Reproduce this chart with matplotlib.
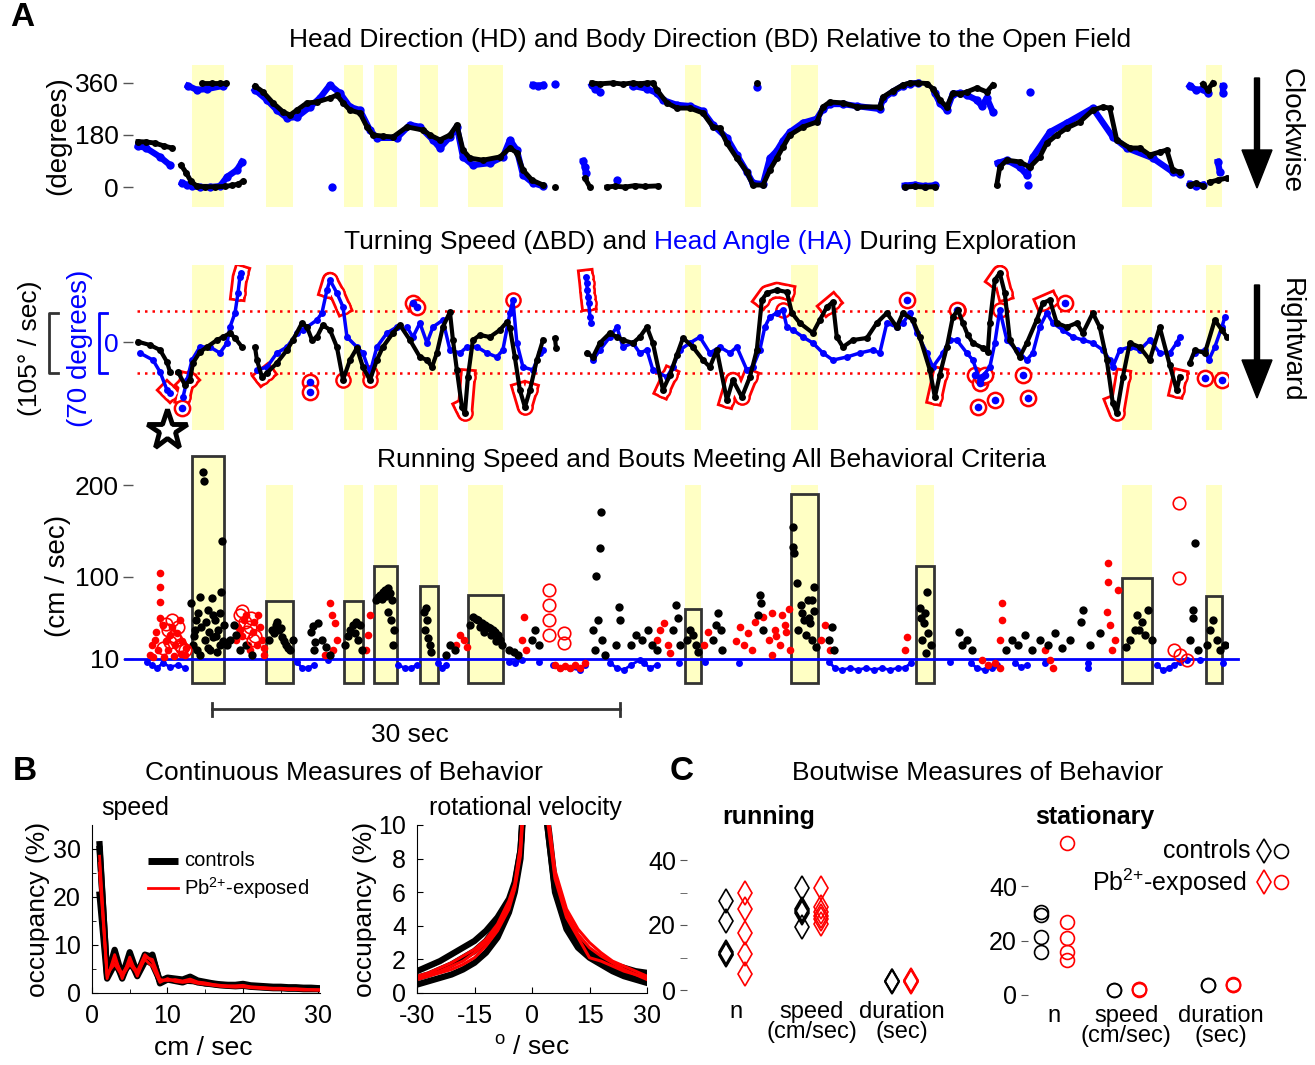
import numpy as np
import matplotlib
matplotlib.use('Agg')
import matplotlib.pyplot as plt
from matplotlib.patches import Rectangle, FancyArrow

nan = float('nan')
plt.rcParams['font.family'] = ['Liberation Sans', 'DejaVu Sans']
plt.rcParams['mathtext.fontset'] = 'custom'
plt.rcParams['mathtext.rm'] = 'Liberation Sans'
plt.rcParams['mathtext.it'] = 'Liberation Sans:italic'
plt.rcParams['mathtext.bf'] = 'Liberation Sans:bold'
plt.rcParams['axes.unicode_minus'] = False

BLUE = '#0000ff'; RED = '#ff0000'; YEL = '#ffffc4'; EDGE = '#333333'

# ---------------- DATA ----------------
# running bouts (seconds) and their peak speed (cm/s)
bout_start = [4.34, 9.78, 15.51, 17.71, 21.09, 24.62, 40.57, 48.36, 57.55, 72.69, 78.87]
bout_end = [6.69, 11.76, 16.91, 19.40, 22.42, 27.20, 41.75, 50.35, 58.87, 74.90, 80.04]
bout_peak = [231.9, 73.4, 73.4, 111.6, 89.8, 79.9, 64.6, 190.3, 111.6, 98.5, 78.9]

# body direction (deg), segments
bd_t = [
    [0.37, 0.96, 1.62, 2.28, 2.87],
    [3.53, 3.90, 4.26, 4.70, 5.29, 6.03, 6.76, 7.28, 7.72, 8.09],
    [5.07, 5.81, 6.39, 6.84],
    [8.97, 9.56, 10.29, 11.03, 11.54, 12.05, 12.79, 13.52, 14.48, 14.99, 15.44, 15.95, 16.68, 17.20, 17.64, 18.38,
     19.11, 20.14, 21.32, 21.83, 22.56, 23.30, 23.81, 24.26, 24.77, 25.73, 26.97, 27.71, 28.22, 28.67, 29.33, 30.14],
    [31.02],
    [33.22, 33.59],
    [34.84, 35.43, 36.16, 36.90, 37.63, 38.59],
    [33.74, 34.32, 35.28, 36.02, 36.75, 37.26, 37.78, 38.22, 38.51, 39.25, 39.98, 40.94, 41.90, 42.63, 43.14, 43.66,
     44.39, 45.13, 45.57, 46.31, 46.82, 47.33, 47.78, 48.29, 49.25, 50.27, 50.72, 51.23, 52.19, 53.21, 54.90, 55.13,
     55.86, 56.60, 57.11, 57.70, 58.36, 58.80, 59.31, 59.83, 60.27, 60.78, 61.30, 62.03, 62.77, 63.21],
    [45.86],
    [56.74, 57.48, 58.21, 58.95],
    [63.50, 63.72, 64.24, 65.19, 65.93, 66.66, 67.18, 67.91, 68.65, 69.60, 70.56, 71.30, 71.81, 72.32, 73.28, 74.01,
     74.75, 75.48, 76.00, 76.44, 76.95],
    [77.69, 78.13, 78.65],
    [79.16, 79.75, 80.41],
    [78.65, 79.01, 79.38],
]
bd_deg = [
    [157, 156, 152, 142, 135],
    [76, 50, 20, 3, 1, 1, 2, 6, 10, 20],
    [360, 360, 360, 360],
    [349, 329, 291, 260, 249, 266, 291, 294, 308, 318, 291, 266, 256, 208, 180, 176,
     173, 208, 197, 180, 163, 180, 215, 128, 100, 93, 104, 135, 118, 59, 24, 7],
    [0],
    [31, 0],
    [0, 3, 0, 5, 2, 4],
    [360, 357, 360, 356, 360, 357, 360, 360, 336, 291, 273, 273, 256, 208, 204, 152,
     100, 52, 7, 7, 59, 100, 138, 180, 208, 225, 277, 294, 291, 277, 277, 311,
     333, 353, 360, 360, 358, 340, 301, 277, 325, 322, 329, 343, 329, 353],
    [360],
    [0, 2, 0, 1],
    [7, 69, 93, 87, 69, 104, 152, 180, 204, 225, 266, 277, 273, 163, 135, 135,
     111, 121, 128, 59, 52],
    [7, 14, 3],
    [17, 24, 31],
    [357, 336, 360],
]
# head direction (deg), segments
hd_t = [
    [0.37, 0.96, 1.99, 2.72],
    [3.60, 3.97, 4.34, 4.92, 5.66, 6.39, 6.91, 7.64, 8.01],
    [4.04, 4.70, 5.44, 6.62],
    [8.97, 9.85, 10.58, 11.32, 12.05, 13.01, 13.74, 14.48, 15.21, 15.95, 16.68, 17.42, 17.93, 19.40, 20.36, 21.09,
     22.05, 22.56, 23.30, 23.81, 24.26, 24.99, 26.24, 27.19, 27.71, 28.22, 28.67, 29.40, 30.14],
    [14.63],
    [29.40, 29.80, 30.14],
    [31.02],
    [33.10, 33.22, 33.30],
    [35.57],
    [33.74, 34.00, 34.32],
    [36.75, 37.78, 38.51, 38.95, 39.98, 40.94, 41.90, 42.63, 43.66, 44.39, 45.13, 45.57, 46.31, 46.82, 47.33, 47.78,
     48.29, 49.25, 50.27, 50.72, 51.23, 52.19, 53.21, 54.90, 55.13, 55.86, 56.60, 57.11, 57.70],
    [45.86],
    [56.74, 57.48, 58.21, 58.95],
    [58.95, 59.31, 59.83, 60.27, 60.78, 61.30, 62.03, 62.40, 62.77, 63.21],
    [65.93],
    [63.58, 64.24, 65.19, 65.71, 66.15, 67.40, 68.65, 70.56, 72.03, 73.06, 74.97, 76.44, 76.95],
    [65.78],
    [77.69, 78.13, 78.65],
    [79.75, 79.90],
    [77.69, 78.13, 78.65, 79.01],
    [80.12, 80.12],
]
hd_deg = [
    [142, 135, 104, 76],
    [14, 7, 3, 0, 0, 3, 35, 59, 87],
    [350, 336, 339, 350],
    [336, 301, 266, 239, 242, 277, 308, 353, 325, 277, 266, 197, 170, 170, 215, 208,
     163, 135, 173, 208, 104, 76, 83, 104, 163, 128, 42, 14, 3],
    [0],
    [353, 350, 353],
    [357],
    [90, 69, 48],
    [24],
    [353, 340, 329],
    [350, 340, 325, 301, 284, 280, 262, 215, 170, 111, 52, 14, 10, 100, 125, 160,
     190, 222, 236, 270, 287, 287, 280, 270, 305, 330, 350, 357, 360],
    [345],
    [5, 8, 3, 6],
    [325, 291, 266, 322, 325, 318, 301, 280, 308, 260],
    [329],
    [83, 93, 69, 42, 104, 190, 222, 273, 173, 135, 100, 52, 45],
    [7],
    [10, 3, 8],
    [87, 52],
    [350, 336, 339, 325],
    [350, 325],
]

# turning speed dBD (deg/s), segments
ts_t = [
    [0.37, 1.25, 1.99, 2.50, 2.72],
    [3.31, 3.82, 4.19, 4.41, 4.92, 5.44, 6.17, 6.62, 7.13, 7.50, 8.01],
    [8.97, 9.11, 9.48, 9.85, 10.58, 11.32, 11.76, 12.42, 12.79, 13.16, 13.52, 13.96, 14.48, 14.99, 15.44, 15.95,
     16.46, 16.90, 17.42, 17.93, 18.37, 19.11, 19.62,
     20.36, 21.09, 21.61, 21.98, 22.34, 22.78, 23.30, 23.52, 23.81, 24.18, 24.40, 24.62, 24.99, 25.51, 26.24, 26.97,
     27.49, 27.71, 28.07, 28.44, 28.81, 29.18, 29.69, 30.14],
    [31.02, 31.10],
    [33.37, 33.81, 34.32, 35.06, 35.57, 36.02, 36.75, 37.26, 37.78, 38.22, 38.96, 39.47, 39.98, 40.43, 41.16, 41.90,
     42.41, 42.92, 43.66, 44.10, 44.76, 45.35, 45.86, 46.23, 46.60, 47.33, 48.07, 48.44, 49.02, 49.98, 50.49, 51.01,
     51.45, 51.74, 52.19, 52.92, 53.95, 54.68, 55.42, 56.15, 56.60, 57.33, 57.84, 58.58, 58.95, 59.31, 59.83, 60.27,
     60.64, 61.01, 61.37, 61.74, 62.48, 62.84, 62.99, 63.36, 63.72, 64.09, 64.46, 65.19, 65.71, 66.44, 66.89, 67.40,
     67.91, 68.65, 69.38, 69.83, 70.56, 71.07, 71.59, 72.03, 72.32, 72.77, 73.28, 74.01, 74.75, 75.48, 76.22, 76.73,
     76.95],
    [77.69, 78.07, 78.80, 79.53, 80.05, 80.41],
]
ts_val = [
    [0.5, -5.2, -13.8, -34.4, -51.6],
    [-51.6, -74, -65.4, -36.1, -17.2, -8.6, 3.4, 8.6, 15.5, 6.9, -8.6],
    [-8.6, -31, -60.2, -53.4, -36.1, -13.8, 3.4, 32.7, 25.8, 3.4, 8.6, 29.3, 20.7, -8.6, -65, -31,
     -10.3, -43, -65.4, -31, -8.6, 15.5, 29.3,
     3.4, -25.8, -31, -43, -18.9, 25.8, 51.6, 3.4, -48.2, -111.9, -122.2, -60.2, 3.4, 12, 8.6, 20.7,
     34.4, 24.1, -25.8, -82.6, -111.9, -82.6, -31, 3.4],
    [6.9, -10.3],
    [-18.9, -25.8, -1.7, 15.5, 8.6, 3.4, -1.7, 8.6, 25.8, -1.7, -82.6, -56.8, -22.4, 6.9, -8.6, -31,
     -43, -13.8, -99.8, -65.4, -94.7, -60.2, -13.8, 72.3, 84.3, 89.5, 86, 49.9, 32.7, 15.5, 37.9, 60.2,
     68.8, 8.6, -8.6, 3.4, 6.9, 32.7, 49.9, 25.8, 49.9, 37.9, 8.6, -48.2, -94.7, -56.8, -8.6, 43,
     55.1, 32.7, 12, -1.7, -10.3, -17.2, 32.7, 106.7, 118.7, 84.3, 3.4, -25.8, -1.7, 37.9, 67.1, 72.3,
     32.7, 25.8, 32.7, 15.5, 49.9, 25.8, -31, -105, -122.2, -60.2, -1.7, -8.6, -31, 25.8, -40, -82.6,
     -60],
    [-36.1, -13.8, -18.9, 37.9, 20.7, 8.6],
]
# head angle HA (deg), traced segments
ha_t = [
    [0.51, 1.47, 1.99, 2.50, 2.72],
    [3.68, 3.97, 4.34, 4.92, 5.66, 6.39, 6.91, 7.13, 7.50, 7.72, 7.86, 7.95],
    [9.11, 9.85, 10.58, 11.32, 12.05, 12.49, 13.52, 13.89, 14.26, 14.48, 14.99, 15.44, 15.73, 16.46, 16.90, 17.42,
     17.93, 18.67, 19.40],
    [20.14, 20.58, 21.09, 21.61, 22.05, 22.78, 23.30, 24.04, 24.55, 25.29, 26.02, 26.75, 27.19, 27.71, 27.93, 28.22,
     28.67, 29.40, 29.91, 30.14],
    [33.30, 33.35, 33.40, 33.45, 33.50, 33.60, 33.70],
    [33.81, 34.32, 35.06, 35.57, 36.02, 36.75, 37.26, 37.78, 38.22, 39.25, 39.69, 40.20, 40.94, 41.67, 42.41, 43.14,
     43.88, 44.39, 45.13, 45.57, 46.08, 46.45, 46.82, 47.33, 47.78, 48.07, 48.51, 49.25, 49.98, 50.72, 51.45, 52.48,
     53.43, 54.39, 54.90, 55.42, 56.15, 56.60, 57.11, 57.62, 58.36, 58.80, 59.54, 60.05, 60.56, 61.30, 61.74, 62.25,
     62.99, 63.36, 63.72, 64.24, 64.97, 65.71, 66.15, 66.66, 67.18, 67.62, 68.36, 69.09, 69.83, 70.56, 71.30, 71.81,
     72.03, 72.54, 73.28, 74.01, 74.75, 75.48, 76.22, 76.73, 76.95],
    [78.07, 78.80, 79.09, 79.53, 80.05, 80.27],
]
ha_deg = [
    [-12.6, -20.7, -34.4, -55.1, -58.5],
    [-63.1, -43.6, -20.7, -5.7, -5.7, -12.6, -1.1, 17.2, 33.3, 56.2, 74.6, 79.2],
    [-32.1, -28.7, -12.6, -5.7, 10.3, 13.8, 25.2, 33.3, 59.7, 71.1, 56.2, 40.2, 5.7, -5.7, -12.6, -35.6,
     -5.7, 10.3, 17.2],
    [17.2, 5.7, 21.8, -1.1, 17.2, 25.2, -9.2, -12.6, -5.7, -5.7, -12.6, -17.2, -9.2, 33.3, 48.2, -1.1,
     -28.7, -32.1, -12.6, -9.2],
    [74.6, 67.7, 59.7, 51.6, 44.8, 28.7, 21.8],
    [-20.7, -9.2, 5.7, 17.2, -5.7, -1.1, -12.6, -9.2, -32.1, -40.2, -28.7, -9.2, -1.1, 5.7, -12.6, -5.7,
     -12.6, -5.7, -32.1, -28.7, -9.2, 17.2, 28.7, 33.3, 36.7, 17.2, 13.8, 5.7, -1.1, -12.6, -20.7, -17.2,
     -12.6, -9.2, -12.6, 21.8, 17.2, 21.8, 33.3, 10.3, -12.6, -28.7, -12.6, 2.3, 2.3, -12.6, -20.7, -43.6,
     -28.7, -1.1, 36.7, 2.3, -9.2, -20.7, -12.6, 17.2, 33.3, 21.8, 13.8, 5.7, 2.3, -1.1, -9.2, -20.7,
     -28.7, -9.2, -5.7, -9.2, 2.3, -12.6, -12.6, -1.1, 5.7],
    [-12.6, -9.2, -20.7, -5.7, 17.2, 28.7],
]
# isolated head-angle samples (deg)
ha_out_t = [3.60, 13.01, 13.01, 20.60, 20.90, 61.90, 62.11, 62.25, 62.40, 62.62, 63.36, 65.42, 65.78, 78.79, 80.04,
            56.89, 60.56, 68.50]
ha_out_deg = [-75.7, -45.9, -57.4, 44.8, 40.2, -38, -74.6, -47, -40, -37.9, -66.6, -37.9, -64.3, -41.3, -43.6,
              48.2, 36.7, 44.8]

# running speed (t [s], cm/s)
spd_black = [(5.15,214.4),(5.22,204.6),(6.54,139),(6.47,83.2),(4.92,77.8),(5.81,76.7),(4.26,71.2),(4.63,52.6),(5.51,63.6),
    (6.03,52.6),(6.25,41.7),(5.29,30.8),(4.56,41.7),(5.66,19.8),(4.92,14.4),(6.39,25.3),(6.69,47.2),(4.41,25.3),(5.88,34),
    (4.5,35),(4.8,60),(5.0,45),(5.4,50),(5.6,40),(5.9,58),(6.1,35),(6.4,60),(6.6,30),(4.7,20),(5.5,22),(6.2,18),
    (6.91,25.3),(7.13,30.8),(7.42,47.2),(7.57,36.2),(7.86,19.8),(8.31,25.3),(8.75,14.4),
    (10.0,30.8),(10.22,41.7),(10.51,47.2),(10.73,41.7),(10.95,34),(11.25,25.3),(11.54,19.8),(11.76,30.8),
    (10.4,38),(10.6,50),(10.85,44),(11.1,30),(11.4,22),
    (13.08,39.5),(13.6,49.3),(13.89,30.8),(14.19,23.1),(13.3,19.8),(14.48,14.4),(13.2,46),(13.4,28),
    (15.58,25.3),(15.95,41.7),(16.17,47.2),(16.39,50.4),(16.68,47.2),(16.54,30.8),(16.83,19.8),(15.8,35),(16.3,38),
    (17.86,74.5),(18.15,80),(18.38,83.2),(18.52,85.4),(18.74,87.6),(18.89,82.1),(19.04,74.5),(18.74,61.4),(18.96,52.6),
    (19.18,41.7),(19.11,25.3),(18.0,78),(18.3,76),(18.6,79),
    (21.39,61.4),(21.54,65.7),(21.61,52.6),(21.46,41.7),(21.68,33),(21.83,25.3),(21.9,17.7),
    (23.01,14.4),(23.3,25.3),(23.67,19.8),
    (24.77,47.2),(24.99,55.9),(25.21,53.7),(25.36,52.6),(25.65,49.3),(25.87,47.2),(26.09,45),(26.24,43.9),(26.46,41.7),
    (26.61,39.5),(26.83,36.2),(26.97,30.8),(27.12,25.3),(25.5,45),(25.8,40),(26.3,36),(26.7,30),
    (27.64,19.8),(28.0,17.7),(28.3,14.4),(29.33,30.8),(29.55,41.7),(29.84,25.3),
    (33.81,41.7),(33.96,19.8),(34.03,100.7),(34.18,52.6),(34.32,131.3),(34.4,170.7),(34.47,30.8),(34.69,14.4),
    (35.72,66.8),(35.79,52.6),(35.5,25.3),
    (36.6,25.3),(36.97,36.2),(37.41,30.8),(37.85,41.7),(38.15,25.3),(38.51,19.8),
    (39.91,69),(40.06,54.8),(39.69,41.7),(40.2,25.3),
    (40.72,30.8),(40.94,41.7),(41.16,36.2),(41.38,25.3),(41.53,17.7),
    (42.63,30.8),(42.85,47.2),(43.0,60.3),(43.22,41.7),(43.29,19.8),
    (45.94,58.1),(46.08,80),(46.16,71.2),(46.31,41.7),
    (48.51,154.3),(48.51,132.4),(48.58,125.9),(48.8,93.1),(49.1,69),(49.32,52.6),(49.61,74.5),(49.76,49.3),(49.91,74.5),
    (49.91,30.8),(50.05,88.7),(50.2,23.1),(48.88,41.7),(49.47,36.2),(49.2,60),(49.7,55),(50.1,62),
    (51.16,30.8),(51.38,45),(51.52,19.8),
    (57.84,65.7),(57.99,30.8),(58.14,49.3),(58.29,16.6),(58.36,83.2),(58.43,38.4),(58.65,25.3),(57.9,55),(58.2,60),
    (60.71,39.5),(60.93,25.3),(61.3,30.8),(61.67,19.8),
    (64.17,19.8),(64.61,30.8),(65.05,25.3),(65.56,36.2),(66.08,19.8),(66.66,30.8),(67.25,25.3),(67.77,38.4),(68.28,22),
    (68.87,30.8),(69.68,50.4),(69.83,63.6),(70.34,25.3),(71.07,38.4),
    (72.99,23.1),(73.28,30.8),(73.65,41.7),(73.79,58.1),(73.94,41.7),(74.16,50.4),(74.38,36.2),(74.6,63.6),(74.9,30.8),
    (77.91,63.6),(77.91,54.8),(78.06,136.8),(77.69,30.8),(78.28,19.8),
    (78.94,25.3),(79.16,41.7),(79.38,52.6),(79.67,30.8),(79.89,19.8),(80.26,25.3)]
spd_red = [(1.98,104),(1.98,88.7),(1.98,72.3),(1.62,30.8),(1.84,19.8),(2.21,47.2),(2.72,36.2),(3.09,25.3),(3.45,52.6),
    (3.82,14.4),(1.25,14.4),(1.4,25),(1.7,40),(2.0,55),(2.4,30),(2.6,20),(2.9,45),(3.2,38),(3.6,30),(3.9,22),
    (1.5,12),(2.3,12),(3.0,13),(3.5,15),
    (7.57,30.8),(7.86,41.7),(8.16,52.6),(8.45,25.3),(8.82,39.5),(9.19,58.1),(9.48,30.8),(9.63,14.4),
    (7.7,45),(8.0,35),(8.3,58),(8.6,20),(8.9,50),(9.1,25),(9.3,45),(9.6,22),
    (14.48,71.2),(14.63,58.1),(14.85,49.3),(14.99,30.8),(14.7,19.8),(14.11,14.4),
    (17.42,58.1),(17.27,36.2),(17.13,19.8),
    (23.74,25.3),(24.03,36.2),(24.33,30.8),(24.55,23.1),
    (28.74,55.9),(28.59,30.8),(28.89,19.8),
    (38.51,30.8),(38.73,41.7),(39.03,49.3),(39.32,25.3),(39.47,16.6),
    (42.0,25),(42.3,40),(44.3,30),(44.6,45),(44.9,25),(45.2,38),(45.5,20),(45.7,50),
    (46.31,55.9),(46.75,30.8),(47.19,41.7),(47.55,25.3),(47.92,47.2),(48.29,19.8),(46.97,14.4),
    (47.0,60),(47.3,35),(47.7,58),(48.0,40),(48.2,65),
    (50.57,30.8),(50.86,47.2),(51.23,19.8),
    (56.89,34),(56.74,19.8),
    (63.87,71.2),(63.87,52.6),(63.72,30.8),(67.03,19.8),(67.4,8.9),(67.62,0.2),
    (71.59,61.4),(71.66,114.9),(71.66,94.2),(72.4,85.4),(71.81,47.2),(72.18,30.8),(71.96,19.8),
    (31.02,3.4),(31.38,0.2),(31.75,2.3),(32.12,0.2),(32.49,3.4),(32.85,0.2),(33.22,5.6),
    (62.4,8.9),(62.84,3.4),(63.36,5.6),(63.72,0.2)]
spd_red_open = [(2.57,41.7),(2.87,52.6),(3.16,30.8),(3.45,25.3),(3.82,19.8),(2.4,48),(2.7,28),(3.0,35),(3.3,45),(3.6,22),
    (2.2,22),(7.86,58.1),(8.23,50.4),(8.6,45),(8.82,30.8),(8.0,62),(8.4,40),(8.7,55),(9.0,35),
    (30.58,85.4),(30.58,69),(30.58,52.6),(30.58,36.2),(31.68,38.4),(31.68,27.5),
    (76.88,180.5),(76.88,98.5),(76.51,19.8),(76.95,14.4),(77.47,8.9)]
spd_blue = [(1.03,6.7),(1.4,3.4),(1.76,0.2),(2.21,5.6),(2.72,1.3),(3.31,3.4),(3.82,0.2),(12.05,6.7),(12.42,0.2),(12.86,0.2),
    (13.3,3.4),(14.33,8.9),(19.48,3.4),(19.99,0.2),(20.43,0.2),(20.87,3.4),(22.42,5.6),(22.71,0.2),(23.01,3.4),
    (27.64,6.7),(28.08,5.6),(28.59,8.9),(29.84,6.7),(30.87,3.4),(31.38,0.2),(32.12,0.2),(32.85,-2),(33.22,3.4),
    (35.06,5.6),(35.57,0.2),(36.09,-2),(36.6,3.4),(37.26,8.9),(37.56,5.6),(38.0,0.2),(38.51,3.4),(40.13,5.6),
    (42.04,6.7),(44.54,5.6),(51.16,6.7),(51.6,0.2),(52.11,-2),(52.7,0.2),(53.29,-2),(53.88,0.2),(54.46,-2),
    (55.05,0.2),(55.64,-2),(56.23,0.2),(56.74,0.2),(57.18,5.6),(60.05,6.7),(61.59,5.6),(62.03,0.2),(62.62,-2),
    (63.14,0.2),(63.5,3.4),(64.83,5.6),(65.27,1.3),(65.71,3.4),(67.03,5.6),(70.19,5.6),(70.19,0.2),(75.26,3.4),
    (75.7,-2),(76.15,0.2),(76.51,3.4),(76.95,6.7),(77.47,8.9),(78.42,8.9),(80.12,5.6)]

# Panel B: occupancy (%)
speed_bins = list(range(1, 31))
speed_ctrl = [
    [31, 3.5, 9, 3.5, 8.5, 4, 8, 7.5, 2.5, 3.2, 3.0, 2.8, 3.4, 2.6, 2.3, 2.0, 1.8, 1.7, 1.7, 1.9, 1.6, 1.5, 1.4, 1.3, 1.3, 1.2, 1.2, 1.1, 1.1, 1.0],
    [30, 4, 7, 3, 7, 3.5, 6.5, 8, 2.0, 2.8, 2.5, 2.2, 2.8, 2.2, 2.0, 1.8, 1.6, 1.5, 1.4, 1.5, 1.3, 1.2, 1.1, 1.0, 1.0, 0.9, 0.9, 0.8, 0.8, 0.8],
    [20.5, 3, 6, 4, 6, 4.5, 7, 6, 2.5, 3.0, 2.8, 2.6, 2.5, 2.4, 2.0, 1.9, 1.7, 1.6, 1.5, 1.6, 1.4, 1.3, 1.2, 1.2, 1.1, 1.0, 1.0, 0.9, 0.9, 0.9],
]
speed_pb = [
    [28.5, 3.5, 7, 4, 6.5, 4.5, 8, 6.5, 2.5, 2.8, 2.6, 2.4, 2.6, 2.2, 2.0, 1.7, 1.5, 1.4, 1.4, 1.5, 1.2, 1.1, 1.0, 0.9, 0.9, 0.8, 0.8, 0.7, 0.7, 0.6],
    [25, 4, 6, 3.5, 6, 4, 7, 5.5, 2.2, 3.0, 2.4, 2.2, 2.4, 2.0, 1.8, 1.6, 1.4, 1.3, 1.2, 1.3, 1.1, 1.0, 0.9, 0.8, 0.8, 0.7, 0.7, 0.6, 0.6, 0.6],
    [27, 3, 8, 3, 7.5, 3.5, 7.5, 7, 2.8, 2.6, 2.8, 2.5, 2.9, 2.3, 2.1, 1.8, 1.6, 1.5, 1.5, 1.6, 1.3, 1.2, 1.1, 1.0, 1.0, 0.9, 0.9, 0.8, 0.7, 0.7],
]
rot_bins_neg = [-30, -27, -24, -21, -18, -15, -12, -9, -6, -4.5, -3, -1.5]
rot_bins_pos = [1.5, 3, 4.5, 6, 9, 12, 15, 18, 21, 24, 27, 30]
rot_ctrl_neg = [[1.3, 1.6, 1.9, 2.3, 2.7, 3.1, 3.7, 4.5, 5.6, 6.6, 8.5, 14],
                [0.5, 0.7, 0.9, 1.1, 1.4, 1.8, 2.4, 3.3, 4.8, 6.0, 8.0, 14],
                [0.9, 1.1, 1.4, 1.7, 2.1, 2.5, 3.1, 4.0, 5.3, 6.4, 8.5, 14]]
rot_pb_neg = [[1.0, 1.2, 1.5, 1.8, 2.2, 2.6, 3.2, 4.1, 5.5, 6.5, 8.8, 14],
              [0.8, 1.0, 1.2, 1.4, 1.7, 2.1, 2.8, 3.7, 5.0, 6.2, 8.2, 14],
              [0.9, 1.1, 1.3, 1.6, 1.9, 2.4, 3.0, 3.9, 5.2, 6.3, 8.6, 14]]
rot_ctrl_pos = [[14, 12, 9, 6.0, 3.8, 2.7, 2.1, 1.7, 1.3, 1.0, 0.8, 0.6],
                [14, 12, 9.5, 6.5, 4.3, 3.1, 2.4, 2.0, 1.7, 1.5, 1.3, 1.2],
                [14, 12, 9, 6.2, 4.0, 2.9, 2.2, 1.8, 1.5, 1.2, 1.0, 0.8]]
rot_pb_pos = [[14, 12, 10, 7.3, 5.0, 3.8, 3.0, 2.4, 1.9, 1.6, 1.3, 1.0],
              [14, 12, 9.5, 6.8, 4.5, 3.3, 2.1, 1.9, 1.6, 1.3, 1.1, 0.9],
              [14, 12, 10, 7.0, 4.7, 3.5, 2.7, 2.2, 1.8, 1.4, 1.1, 0.8]]

# Panel C: boutwise measures
run_n_ctrl = [27.5, 21.1, 11.7, 11.2, 10.7]
run_n_pb = [29.8, 24.8, 17.5, 11.0, 4.9]
run_speed_ctrl = [31.3, 24.8, 24.3, 23.6, 19.4]
run_speed_pb = [31.4, 25.5, 23.9, 22.9, 21.9, 20.2]
run_dur_ctrl = [2.8, 2.6, 2.9]
run_dur_pb = [2.8, 2.5, 2.7, 3.0]
stat_n_ctrl = [30.6, 29.4, 21.2, 15.9]
stat_n_pb = [56, 26.7, 20.8, 15.7, 12.9]
stat_speed_ctrl = [1.8, 1.9]
stat_speed_pb = [2.1, 2.3, 1.9]
stat_dur_ctrl = [3.7, 3.6]
stat_dur_pb = [3.7, 3.9, 3.5]

# ---------------- FIGURE ----------------
W, H = 1315, 1065
fig = plt.figure(figsize=(W / 100, H / 100), dpi=100)

def fax(x0, y0, x1, y1):
    return fig.add_axes([x0 / W, 1 - y1 / H, (x1 - x0) / W, (y1 - y0) / H])

def check(name, T, V):
    for i, (a, b) in enumerate(zip(T, V)):
        if len(a) != len(b):
            raise ValueError(f'{name} segment {i}: {len(a)} vs {len(b)}')

for nm, T, V in [('bd', bd_t, bd_deg), ('hd', hd_t, hd_deg), ('ts', ts_t, ts_val), ('ha', ha_t, ha_deg)]:
    check(nm, T, V)

TLIM = (0, 80.5)
TICKC = '#555555'
FS = 19
PB = r'Pb$^{2{+}}$-exposed'

# ---- A1: HD & BD
axA = fax(133, 65, 1228, 207)
axA.set_xlim(*TLIM); axA.set_ylim(-69, 422)
for s, e in zip(bout_start, bout_end):
    axA.axvspan(s, e, color=YEL, lw=0, zorder=0)
for a, b in zip(hd_t, hd_deg):
    axA.plot(a, b, color=BLUE, lw=4.5, marker='o', ms=6, mew=0, zorder=2)
for a, b in zip(bd_t, bd_deg):
    axA.plot(a, b, color='k', lw=3.5, marker='o', ms=5, mew=0, zorder=3)
axA.set_xticks([]); axA.set_yticks([0, 180, 360])
axA.tick_params(axis='y', length=7, width=1, color=TICKC, pad=3, labelsize=FS)
axA.set_ylabel('(degrees)', fontsize=FS + 1)
axA.yaxis.set_label_coords((71 - 133) / 1095, 0.5)
for sp in axA.spines.values():
    sp.set_visible(False)

# ---- A2: turning speed & head angle
TH = 52.5
HA_SCALE = 105 / 70
axM = fax(133, 265, 1228, 430)
axM.set_xlim(*TLIM); axM.set_ylim(-151.4, 132.5)
for s, e in zip(bout_start, bout_end):
    axM.axvspan(s, e, color=YEL, lw=0, zorder=0)
axM.plot([0.29, 80.4], [TH, TH], color=RED, lw=1.8, ls=(0, (1, 2)), zorder=1)
axM.plot([0.29, 80.4], [-TH, -TH], color=RED, lw=1.8, ls=(0, (1, 2)), zorder=1)
series = [(ts_t, [np.array(v, float) for v in ts_val]),
          (ha_t, [np.array(v, float) * HA_SCALE for v in ha_deg])]
for T, V in series:
    for a, b in zip(T, V):
        r = np.where(np.abs(b) > TH, b, nan)
        axM.plot(a, r, color=RED, lw=12, marker='o', ms=12, mew=0, zorder=2)
for T, V in series:
    for a, b in zip(T, V):
        r = np.where(np.abs(b) > TH, b, nan)
        axM.plot(a, r, color='white', lw=8, marker='o', ms=8.5, mew=0, zorder=2.5)
out_y = np.array(ha_out_deg) * HA_SCALE
out_t = np.array(ha_out_t)
big = np.abs(out_y) > TH
axM.plot(out_t[big], out_y[big], ls='none', marker='o', ms=11, mfc='white', mec=RED, mew=1.8, zorder=2.6)
axM.plot(out_t, out_y, ls='none', marker='o', ms=5.5, mew=0, color=BLUE, zorder=3)
for a, b in zip(ha_t, series[1][1]):
    axM.plot(a, b, color=BLUE, lw=2.5, marker='o', ms=5, mew=0, zorder=3)
for a, b in zip(ts_t, series[0][1]):
    axM.plot(a, b, color='k', lw=3, marker='o', ms=5, mew=0, zorder=4)
axM.set_xticks([]); axM.set_yticks([0])
axM.set_yticklabels(['0'], color=BLUE)
axM.tick_params(axis='y', length=7, width=1, color=TICKC, pad=3, labelsize=FS)
for sp in axM.spines.values():
    sp.set_visible(False)

# ---- A3: running speed
axR = fax(133, 453, 1228, 684.6)
axR.set_xlim(*TLIM); axR.set_ylim(-18, 235)
BOT = -16.2
for s, e in zip(bout_start, bout_end):
    axR.add_patch(Rectangle((s, BOT), e - s, 200 - BOT, facecolor=YEL, edgecolor='none', zorder=0))
for s, e, p in zip(bout_start, bout_end, bout_peak):
    axR.add_patch(Rectangle((s, BOT), e - s, p - BOT, facecolor=YEL, edgecolor=EDGE, lw=2, zorder=1))
axR.plot([-0.6, 81.2], [10, 10], color=BLUE, lw=2, zorder=2, clip_on=False)
bl = sorted(spd_blue)
bt = np.array([p[0] for p in bl]); bv = np.array([p[1] for p in bl])
breaks = np.where(np.diff(bt) > 0.8)[0] + 1
for seg_t, seg_v in zip(np.split(bt, breaks), np.split(bv, breaks)):
    axR.plot(seg_t, seg_v, color=BLUE, lw=2, marker='o', ms=5, mew=0, zorder=3)
rx, ry = zip(*spd_red)
axR.plot(rx, ry, ls='none', marker='o', ms=5.5, mew=0, color=RED, zorder=4)
kx, ky = zip(*spd_black)
axR.plot(kx, ky, ls='none', marker='o', ms=6, mew=0, color='k', zorder=5)
ox, oy = zip(*spd_red_open)
axR.plot(ox, oy, ls='none', marker='o', ms=9, mfc='none', mec=RED, mew=1.2, zorder=5)
axR.set_xticks([]); axR.set_yticks([10, 100, 200])
axR.tick_params(axis='y', length=7, width=1, color=TICKC, pad=3, labelsize=FS)
axR.set_ylabel('(cm / sec)', fontsize=FS + 1)
axR.yaxis.set_label_coords((71 - 133) / 1095, 0.47)
for sp in axR.spines.values():
    sp.set_visible(False)

# ---- B: speed occupancy
axS = fax(92, 825, 320, 993)
for y in speed_ctrl:
    axS.plot(speed_bins, y, color='k', lw=4.5)
for y in speed_pb:
    axS.plot(speed_bins, y, color=RED, lw=2)
axS.set_xlim(0, 30.2); axS.set_ylim(0, 35)
axS.set_xticks([0, 10, 20, 30]); axS.set_xticks([5, 15, 25], minor=True)
axS.set_yticks([0, 10, 20, 30]); axS.set_yticks([5, 15, 25], minor=True)
axS.set_xlabel('cm / sec', fontsize=FS)
axS.xaxis.set_label_coords(0.49, -0.255)
axS.set_ylabel('occupancy (%)', fontsize=FS)
axS.yaxis.set_label_coords((50 - 92) / 228, 0.5)

axV = fax(417, 825, 647, 993)
for yn, yp in zip(rot_ctrl_neg, rot_ctrl_pos):
    axV.plot(rot_bins_neg, yn, color='k', lw=4.5)
    axV.plot(rot_bins_pos, yp, color='k', lw=4.5)
for yn, yp in zip(rot_pb_neg, rot_pb_pos):
    axV.plot(rot_bins_neg, yn, color=RED, lw=2.2)
    axV.plot(rot_bins_pos, yp, color=RED, lw=2.2)
axV.set_xlim(-30, 30); axV.set_ylim(0, 10)
axV.set_xticks([-30, -15, 0, 15, 30]); axV.set_yticks([0, 2, 4, 6, 8, 10])
axV.set_xlabel(r'$^{\mathrm{o}}$ / sec', fontsize=FS)
axV.xaxis.set_label_coords(0.5, -0.255)
axV.set_ylabel('occupancy (%)', fontsize=FS)
axV.yaxis.set_label_coords((377 - 417) / 230, 0.5)
for ax in (axS, axV):
    ax.spines['top'].set_visible(False); ax.spines['right'].set_visible(False)
    ax.tick_params(which='both', direction='in', length=4, labelsize=FS - 1)
    ax.tick_params(axis='y', pad=8)
    ax.tick_params(axis='x', pad=8)
    ax.tick_params(which='minor', length=3)

# ---- C: boutwise
def cat_scatter(ax, pos, vals, marker, color, ms):
    ax.plot([pos] * len(vals), vals, ls='none', marker=marker, ms=ms, mfc='none', mec=color, mew=1.2, clip_on=False)

axCr = fax(687, 853.5, 930, 996.5)
axCr.set_xlim(0.362, 3.555); axCr.set_ylim(-2, 42)
off = 0.125
DMS = 12.5
cat_scatter(axCr, 1 - off, run_n_ctrl, 'd', 'k', DMS)
cat_scatter(axCr, 1 + off, run_n_pb, 'd', RED, DMS)
cat_scatter(axCr, 2 - off, run_speed_ctrl, 'd', 'k', DMS)
cat_scatter(axCr, 2 + off, run_speed_pb, 'd', RED, DMS)
cat_scatter(axCr, 3.18 - off, run_dur_ctrl, 'd', 'k', DMS)
cat_scatter(axCr, 3.18 + off, run_dur_pb, 'd', RED, DMS)
axCr.set_yticks([0, 20, 40]); axCr.set_yticks([10, 30], minor=True)
axCr.set_xticks([1, 2, 3.18])
axCr.set_xticklabels(['n', 'speed\n(cm/sec)', 'duration\n(sec)'], linespacing=0.92)

axCs = fax(1028, 837.2, 1250, 1000.4)
axCs.set_xlim(0.641, 3.707); axCs.set_ylim(-2, 58)
off2 = 0.176
cat_scatter(axCs, 1 - off2, stat_n_ctrl, 'o', 'k', 10)
cat_scatter(axCs, 1 + off2, stat_n_pb, 'o', RED, 10)
cat_scatter(axCs, 2 - off2, stat_speed_ctrl, 'o', 'k', 10)
cat_scatter(axCs, 2 + off2, stat_speed_pb, 'o', RED, 10)
cat_scatter(axCs, 3.30 - off2, stat_dur_ctrl, 'o', 'k', 10)
cat_scatter(axCs, 3.30 + off2, stat_dur_pb, 'o', RED, 10)
axCs.set_yticks([0, 20, 40])
axCs.set_xticks([1, 2, 3.30])
axCs.set_xticklabels(['n', 'speed\n(cm/sec)', 'duration\n(sec)'], linespacing=0.92)
for ax in (axCr, axCs):
    for sp in ax.spines.values():
        sp.set_visible(False)
    ax.tick_params(axis='y', which='both', length=5, color=TICKC, labelsize=FS - 1, pad=3)
    ax.tick_params(axis='x', length=0, labelsize=FS - 2, pad=3)

# ---------------- OVERLAY (annotations in pixel coordinates) ----------------
ov = fig.add_axes([0, 0, 1, 1])
ov.set_xlim(0, W); ov.set_ylim(H, 0); ov.axis('off'); ov.patch.set_alpha(0)

ov.text(22, 18, 'A', fontsize=24, fontweight='bold', ha='center', va='center')
ov.text(25, 772, 'B', fontsize=24, fontweight='bold', ha='center', va='center')
ov.text(682, 772, 'C', fontsize=24, fontweight='bold', ha='center', va='center')
ov.text(710, 40, 'Head Direction (HD) and Body Direction (BD) Relative to the Open Field', fontsize=FS, ha='center', va='center')
ov.text(712, 460, 'Running Speed and Bouts Meeting All Behavioral Criteria', fontsize=FS, ha='center', va='center')
ov.text(344, 773, 'Continuous Measures of Behavior', fontsize=FS, ha='center', va='center')
ov.text(978, 773, 'Boutwise Measures of Behavior', fontsize=FS, ha='center', va='center')

# multi-coloured title
pieces = [('Turning Speed (\u0394BD) and ', 'k'), ('Head Angle (HA)', BLUE), (' During Exploration', 'k')]
rend = fig.canvas.get_renderer()
txts = [ov.text(0, 242, s, fontsize=FS, color=c, ha='left', va='center') for s, c in pieces]
widths = [t.get_window_extent(renderer=rend).width for t in txts]
x = 710 - sum(widths) / 2
for t, w in zip(txts, widths):
    t.set_x(x); x += w

ov.text(135, 808, 'speed', fontsize=FS - 1, ha='center', va='center')
ov.text(525, 808, 'rotational velocity', fontsize=FS - 1, ha='center', va='center')
ov.text(769, 817, 'running', fontsize=FS - 1, fontweight='bold', ha='center', va='center')
ov.text(1095, 817, 'stationary', fontsize=FS - 1, fontweight='bold', ha='center', va='center')

# speed legend
ov.plot([148, 178], [861, 861], color='k', lw=5, solid_capstyle='butt')
ov.text(184, 861, 'controls', fontsize=14.5, va='center')
ov.plot([148, 178], [888, 888], color=RED, lw=2)
ov.text(184, 888, PB, fontsize=14.5, va='center')

# C legend
ov.text(1251, 851, 'controls', fontsize=FS - 1, ha='right', va='center')
ov.text(1247, 882, PB, fontsize=FS - 1, ha='right', va='center')
ov.plot([1264], [851], marker='d', ms=DMS, mfc='none', mec='k', mew=1.2)
ov.plot([1281], [851], marker='o', ms=10, mfc='none', mec='k', mew=1.2)
ov.plot([1264], [882], marker='d', ms=DMS, mfc='none', mec=RED, mew=1.2)
ov.plot([1281], [882], marker='o', ms=10, mfc='none', mec=RED, mew=1.2)

# right side arrows
ov.add_patch(FancyArrow(1257, 78, 0, 110, width=5, head_width=30, head_length=38, length_includes_head=True, color='k'))
ov.text(1291, 131, 'Clockwise', fontsize=FS + 1, rotation=-90, ha='center', va='center')
ov.add_patch(FancyArrow(1257, 285, 0, 113, width=5, head_width=30, head_length=38, length_includes_head=True, color='k'))
ov.text(1291, 340, 'Rightward', fontsize=FS + 1, rotation=-90, ha='center', va='center')

# scale labels for middle panel
ov.text(30, 348, '(105\u00b0 / sec)', fontsize=FS, rotation=90, ha='center', va='center')
ov.text(80, 348, '(70 degrees)', fontsize=FS + 1, rotation=90, ha='center', va='center', color=BLUE)
ov.plot([58, 49, 49, 58], [313, 313, 373, 373], color='#333333', lw=2)
ov.plot([107, 99, 99, 107], [313, 313, 373, 373], color=BLUE, lw=2)

# star
ov.plot([167], [430], marker='*', ms=30, mfc='white', mec='k', mew=3.5)

# 30-sec scale bar
ov.plot([212, 620], [709, 709], color='#333333', lw=2)
ov.plot([212, 212], [703, 716], color='#333333', lw=2)
ov.plot([620, 620], [703, 716], color='#333333', lw=2)
ov.text(410, 735, '30 sec', fontsize=FS, ha='center', va='center')

fig.savefig('out.png', dpi=100)
